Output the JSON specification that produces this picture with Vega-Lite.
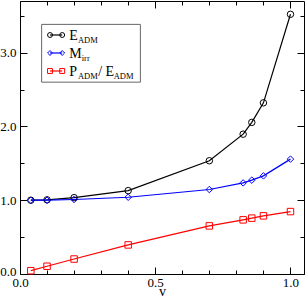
{
  "$schema": "https://vega.github.io/schema/vega-lite/v6.json",
  "width": 284,
  "height": 273,
  "autosize": {"type": "none"},
  "padding": {"left": 20, "top": 1, "right": 2, "bottom": 23},
  "background": "white",
  "config": {
    "view": {"stroke": null},
    "font": "Liberation Serif",
    "axis": {
      "domainColor": "black",
      "domainWidth": 1,
      "tickColor": "black",
      "tickWidth": 1,
      "labelFont": "Liberation Serif",
      "labelFontSize": 13,
      "labelColor": "black",
      "titleFont": "Liberation Serif",
      "titleFontSize": 14,
      "titleFontWeight": "normal",
      "titleColor": "black",
      "grid": false,
      "labelOverlap": false,
      "labelFlush": false
    }
  },
  "datasets": {
    "series": [
      {"series": "E_ADM", "v": 0.04, "val": 1.0},
      {"series": "E_ADM", "v": 0.1, "val": 1.005},
      {"series": "E_ADM", "v": 0.2, "val": 1.035},
      {"series": "E_ADM", "v": 0.4, "val": 1.13},
      {"series": "E_ADM", "v": 0.7, "val": 1.535},
      {"series": "E_ADM", "v": 0.825, "val": 1.895},
      {"series": "E_ADM", "v": 0.857, "val": 2.055},
      {"series": "E_ADM", "v": 0.9, "val": 2.32},
      {"series": "E_ADM", "v": 1.0, "val": 3.52},
      {"series": "M_irr", "v": 0.04, "val": 1.0},
      {"series": "M_irr", "v": 0.1, "val": 1.0},
      {"series": "M_irr", "v": 0.2, "val": 1.01},
      {"series": "M_irr", "v": 0.4, "val": 1.04},
      {"series": "M_irr", "v": 0.7, "val": 1.145},
      {"series": "M_irr", "v": 0.825, "val": 1.235},
      {"series": "M_irr", "v": 0.857, "val": 1.272},
      {"series": "M_irr", "v": 0.9, "val": 1.33},
      {"series": "M_irr", "v": 1.0, "val": 1.557},
      {"series": "P/E", "v": 0.04, "val": 0.045},
      {"series": "P/E", "v": 0.1, "val": 0.105},
      {"series": "P/E", "v": 0.2, "val": 0.203},
      {"series": "P/E", "v": 0.4, "val": 0.394},
      {"series": "P/E", "v": 0.7, "val": 0.652},
      {"series": "P/E", "v": 0.825, "val": 0.734},
      {"series": "P/E", "v": 0.857, "val": 0.757},
      {"series": "P/E", "v": 0.9, "val": 0.788},
      {"series": "P/E", "v": 1.0, "val": 0.846}
    ],
    "legend": [
      {"series": "E_ADM", "main": "E", "sub": "ADM"},
      {"series": "M_irr", "main": "M", "sub": "irr"},
      {"series": "P/E", "main": "P", "sub": "ADM", "extra": "/ E", "sub2": "ADM"}
    ],
    "box": [{"name": "box"}]
  },
  "layer": [
    {
      "data": {"name": "series"},
      "layer": [
        {
          "data": {"name": "box"},
          "mark": {"type": "rect", "fill": "white", "stroke": "#666666", "strokeWidth": 1},
          "encoding": {
            "x": {"datum": 0.08, "type": "quantitative", "scale": {"domain": [0, 1.05], "nice": false}, "axis": null},
            "x2": {"datum": 0.445},
            "y": {"datum": 3.383, "type": "quantitative", "scale": {"domain": [0, 3.7], "nice": false}, "axis": null},
            "y2": {"datum": 2.6}
          }
        },
        {
          "mark": {"type": "line", "strokeWidth": 1.2},
          "encoding": {
            "x": {
              "field": "v", "type": "quantitative",
              "scale": {"domain": [0, 1.05], "nice": false},
              "axis": {
                "orient": "bottom",
                "values": [0, 0.1, 0.2, 0.3, 0.4, 0.5, 0.6, 0.7, 0.8, 0.9, 1.0],
                "tickSize": {"condition": {"test": "abs(datum.value*2 - round(datum.value*2)) < 0.001", "value": -7}, "value": -4},
                "labelExpr": "abs(datum.value*2 - round(datum.value*2)) < 0.001 ? format(datum.value, '.1f') : ''",
                "labelPadding": 9,
                "title": "v",
                "titlePadding": -8
              }
            },
            "y": {
              "field": "val", "type": "quantitative",
              "scale": {"domain": [0, 3.7], "nice": false},
              "axis": {
                "orient": "left",
                "values": [0, 0.5, 1, 1.5, 2, 2.5, 3, 3.5],
                "tickSize": {"condition": {"test": "abs(datum.value - round(datum.value)) < 0.001", "value": -7}, "value": -4},
                "labelExpr": "abs(datum.value - round(datum.value)) < 0.001 ? format(datum.value, '.1f') : ''",
                "labelOffset": {"condition": {"test": "datum.value == 0", "value": -3}, "value": 0},
                "labelPadding": 11,
                "title": null
              }
            },
            "color": {"field": "series", "type": "nominal", "scale": {"domain": ["E_ADM", "M_irr", "P/E"], "range": ["#000000", "#0000ff", "#ff0000"]}, "legend": null}
          }
        },
        {
          "mark": {"type": "point", "filled": false, "size": 42, "strokeWidth": 1, "opacity": 1},
          "encoding": {
            "x": {
              "field": "v", "type": "quantitative",
              "scale": {"domain": [0, 1.05], "nice": false},
              "axis": {
                "orient": "top",
                "values": [0, 0.1, 0.2, 0.3, 0.4, 0.5, 0.6, 0.7, 0.8, 0.9, 1.0],
                "tickSize": {"condition": {"test": "abs(datum.value*2 - round(datum.value*2)) < 0.001", "value": -7}, "value": -4},
                "labels": false,
                "title": null
              }
            },
            "y": {
              "field": "val", "type": "quantitative",
              "scale": {"domain": [0, 3.7], "nice": false},
              "axis": {
                "orient": "right",
                "values": [0, 0.5, 1, 1.5, 2, 2.5, 3, 3.5],
                "tickSize": {"condition": {"test": "abs(datum.value - round(datum.value)) < 0.001", "value": -7}, "value": -4},
                "labels": false,
                "title": null
              }
            },
            "color": {"field": "series", "type": "nominal", "scale": {"domain": ["E_ADM", "M_irr", "P/E"], "range": ["#000000", "#0000ff", "#ff0000"]}, "legend": null},
            "shape": {"field": "series", "type": "nominal", "scale": {"domain": ["E_ADM", "M_irr", "P/E"], "range": ["circle", "diamond", "square"]}, "legend": null}
          }
        }
      ],
      "resolve": {"axis": {"x": "independent", "y": "independent"}}
    },
    {
      "data": {"name": "legend"},
      "encoding": {
        "y": {"field": "series", "type": "nominal", "scale": {"type": "point", "domain": ["E_ADM", "M_irr", "P/E"], "range": [34, 70], "padding": 0}, "axis": null}
      },
      "layer": [
        {
          "mark": {"type": "rule", "strokeWidth": 1.2},
          "encoding": {
            "x": {"datum": 0.111, "type": "quantitative", "scale": {"domain": [0, 1.05], "nice": false}, "axis": null},
            "x2": {"datum": 0.156},
            "color": {"field": "series", "type": "nominal", "scale": {"domain": ["E_ADM", "M_irr", "P/E"], "range": ["#000000", "#0000ff", "#ff0000"]}, "legend": null}
          }
        },
        {
          "mark": {"type": "point", "filled": false, "size": 24, "strokeWidth": 1, "opacity": 1},
          "encoding": {
            "x": {"datum": 0.111, "type": "quantitative", "scale": {"domain": [0, 1.05], "nice": false}, "axis": null},
            "color": {"field": "series", "type": "nominal", "legend": null},
            "shape": {"field": "series", "type": "nominal", "legend": null}
          }
        },
        {
          "mark": {"type": "point", "filled": false, "size": 24, "strokeWidth": 1, "opacity": 1},
          "encoding": {
            "x": {"datum": 0.156, "type": "quantitative", "scale": {"domain": [0, 1.05], "nice": false}, "axis": null},
            "color": {"field": "series", "type": "nominal", "legend": null},
            "shape": {"field": "series", "type": "nominal", "legend": null}
          }
        },
        {
          "mark": {"type": "text", "align": "left", "baseline": "alphabetic", "dy": 4.5, "fontSize": 14, "font": "Liberation Serif", "color": "black"},
          "encoding": {
            "x": {"datum": 0.182, "type": "quantitative", "scale": {"domain": [0, 1.05], "nice": false}, "axis": null},
            "text": {"field": "main"}
          }
        },
        {
          "transform": [{"filter": "datum.series != 'M_irr'"}],
          "mark": {"type": "text", "align": "left", "baseline": "alphabetic", "dx": 8.7, "dy": 8, "fontSize": 8.5, "font": "Liberation Serif", "color": "black"},
          "encoding": {
            "x": {"datum": 0.182, "type": "quantitative", "scale": {"domain": [0, 1.05], "nice": false}, "axis": null},
            "text": {"field": "sub"}
          }
        },
        {
          "transform": [{"filter": "datum.series == 'M_irr'"}],
          "mark": {"type": "text", "align": "left", "baseline": "alphabetic", "dx": 12.5, "dy": 8, "fontSize": 8.5, "font": "Liberation Serif", "color": "black"},
          "encoding": {
            "x": {"datum": 0.182, "type": "quantitative", "scale": {"domain": [0, 1.05], "nice": false}, "axis": null},
            "text": {"field": "sub"}
          }
        },
        {
          "transform": [{"filter": "datum.extra"}],
          "mark": {"type": "text", "align": "left", "baseline": "alphabetic", "dx": 29, "dy": 4.5, "fontSize": 14, "font": "Liberation Serif", "color": "black"},
          "encoding": {
            "x": {"datum": 0.182, "type": "quantitative", "scale": {"domain": [0, 1.05], "nice": false}, "axis": null},
            "text": {"field": "extra"}
          }
        },
        {
          "transform": [{"filter": "datum.extra"}],
          "mark": {"type": "text", "align": "left", "baseline": "alphabetic", "dx": 44.5, "dy": 8, "fontSize": 8.5, "font": "Liberation Serif", "color": "black"},
          "encoding": {
            "x": {"datum": 0.182, "type": "quantitative", "scale": {"domain": [0, 1.05], "nice": false}, "axis": null},
            "text": {"field": "sub2"}
          }
        }
      ]
    }
  ],
  "resolve": {"scale": {"y": "independent"}}
}
